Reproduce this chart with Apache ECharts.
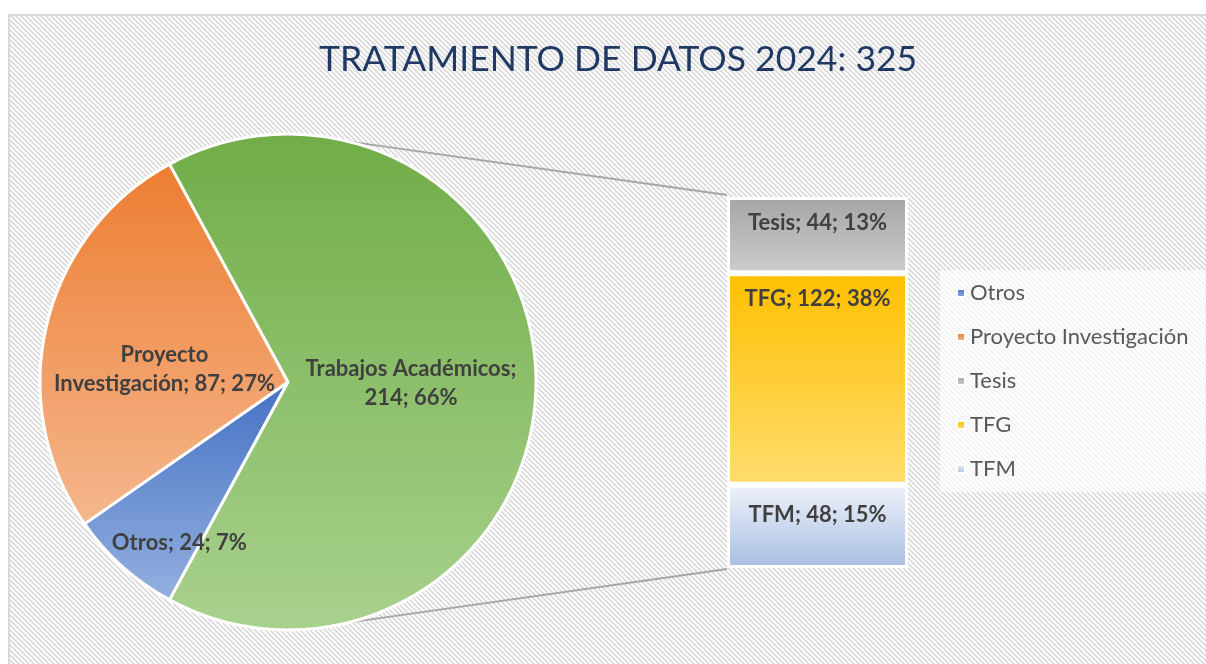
<!DOCTYPE html>
<html>
<head>
<meta charset="utf-8">
<title>Tratamiento de datos 2024</title>
<script src="https://cdn.jsdelivr.net/npm/echarts@6/dist/echarts.min.js"></script>
<style>
  html, body { margin: 0; padding: 0; background: #fff; }
  #main { width: 1206px; height: 664px; }
</style>
</head>
<body>
<div id="main"></div>
<script>
// datos del grafico
var pieNames = ["Otros", "Proyecto Investigación", "Trabajos Académicos"];
var pieValues = [24, 87, 214];
var piePct = [7, 27, 66];

// desglose de "Trabajos Académicos" (de abajo arriba)
var barNames = ["TFM", "TFG", "Tesis"];
var barValues = [48, 122, 44];
var barPct = [15, 38, 13];

var legendNames = ["Otros", "Proyecto Investigación", "Tesis", "TFG", "TFM"];
var titleText = "TRATAMIENTO DE DATOS 2024: 325";

// geometria
var pieCenter = [288, 382];
var pieRadius = 248;
var barLeft = 727, barTop = 197, barWidthPx = 181, barHeightPx = 371;

function grad(top, bottom) {
  return {
    type: "linear", x: 0, y: 0, x2: 0, y2: 1,
    colorStops: [{ offset: 0, color: top }, { offset: 1, color: bottom }]
  };
}

var pieColors = [
  grad("#4472c4", "#95b0e0"),
  grad("#ed7d31", "#f5b78e"),
  grad("#70ad47", "#a9d18e")
];
var barColors = [
  grad("#eef2f9", "#a8bee3"),
  grad("#ffc000", "#ffdc6e"),
  grad("#a5a5a5", "#cdcdcd")
];

// fondo rayado
function makeStripes() {
  var s = 5;
  var c = document.createElement("canvas");
  c.width = s; c.height = s;
  var ctx = c.getContext("2d");
  ctx.fillStyle = "#ffffff";
  ctx.fillRect(0, 0, s, s);
  ctx.strokeStyle = "#d9d9d9";
  ctx.lineWidth = 1.6;
  ctx.beginPath();
  ctx.moveTo(-s, -s); ctx.lineTo(2 * s, 2 * s);
  ctx.moveTo(-s, 0); ctx.lineTo(s, 2 * s);
  ctx.moveTo(0, -s); ctx.lineTo(2 * s, s);
  ctx.stroke();
  return c;
}

var total = 0;
pieValues.forEach(function (v) { total += v; });
// la porcion desglosada queda centrada a la derecha
var startAngle = 360 - (pieValues[2] / total) * 180;

// lineas de conexion
var connAngle = 76 * Math.PI / 180;
var p1 = [pieCenter[0] + pieRadius * Math.cos(connAngle), pieCenter[1] - pieRadius * Math.sin(connAngle)];
var p2 = [pieCenter[0] + pieRadius * Math.cos(connAngle), pieCenter[1] + pieRadius * Math.sin(connAngle)];

var labelFont = {
  color: "#404040",
  fontWeight: "bold",
  fontSize: 22,
  fontFamily: "Lato",
  lineHeight: 29
};

var pieOffsets = [[-24, 66], [0, 17], [-4, 1]];

var myChart = echarts.init(document.getElementById("main"));
myChart.setOption({
  animation: false,
  backgroundColor: "#ffffff",
  title: {
    text: titleText,
    left: 314,
    top: 37,
    textStyle: { color: "#1f3864", fontSize: 35.5, fontWeight: "normal", fontFamily: "Lato" }
  },
  graphic: [
    {
      type: "rect", z: -10, silent: true,
      shape: { x: 9, y: 15, width: 1240, height: 700 },
      style: { fill: { image: makeStripes(), repeat: "repeat" }, stroke: "#d9d9d9", lineWidth: 2 }
    },
    {
      type: "line", z: -5, silent: true,
      shape: { x1: p1[0], y1: p1[1], x2: barLeft, y2: barTop - 2 },
      style: { stroke: "#a6a6a6", lineWidth: 2 }
    },
    {
      type: "line", z: -5, silent: true,
      shape: { x1: p2[0], y1: p2[1], x2: barLeft, y2: barTop + barHeightPx + 1 },
      style: { stroke: "#a6a6a6", lineWidth: 2 }
    }
  ],
  legend: {
    data: legendNames,
    orient: "vertical",
    left: 940,
    top: 270,
    backgroundColor: "rgba(255,255,255,0.65)",
    padding: [12, 40, 12, 16],
    itemWidth: 8,
    itemHeight: 8,
    itemGap: 22,
    icon: "rect",
    selectedMode: false,
    textStyle: { color: "#595959", fontSize: 22, fontFamily: "Lato" }
  },
  grid: { left: barLeft, top: barTop, width: barWidthPx, height: barHeightPx },
  xAxis: { type: "category", data: ["Trabajos Académicos"], show: false },
  yAxis: { type: "value", min: 0, max: pieValues[2], show: false },
  series: [
    {
      type: "pie",
      center: pieCenter,
      radius: pieRadius,
      startAngle: startAngle,
      clockwise: true,
      silent: true,
      itemStyle: { borderColor: "#ffffff", borderWidth: 3 },
      label: Object.assign({ show: true, position: "inside" }, labelFont),
      labelLine: { show: false },
      data: pieNames.map(function (n, i) {
        var txt = n === "Trabajos Académicos"
          ? n + ";\n" + pieValues[i] + "; " + piePct[i] + "%"
          : n === "Proyecto Investigación"
            ? "Proyecto\nInvestigación; " + pieValues[i] + "; " + piePct[i] + "%"
            : n + "; " + pieValues[i] + "; " + piePct[i] + "%";
        return {
          name: n,
          value: pieValues[i],
          itemStyle: { color: pieColors[i] },
          label: { formatter: txt, offset: pieOffsets[i] }
        };
      })
    }
  ].concat(barNames.map(function (n, i) {
    return {
      name: n,
      type: "bar",
      stack: "ta",
      barWidth: "100%",
      silent: true,
      itemStyle: { color: barColors[i], borderColor: "#ffffff", borderWidth: 3 },
      label: Object.assign({
        show: true,
        position: "insideTop",
        distance: n === "TFM" ? 16 : 11,
        formatter: n + "; " + barValues[i] + "; " + barPct[i] + "%"
      }, labelFont),
      data: [barValues[i]]
    };
  }))
});
</script>
</body>
</html>
